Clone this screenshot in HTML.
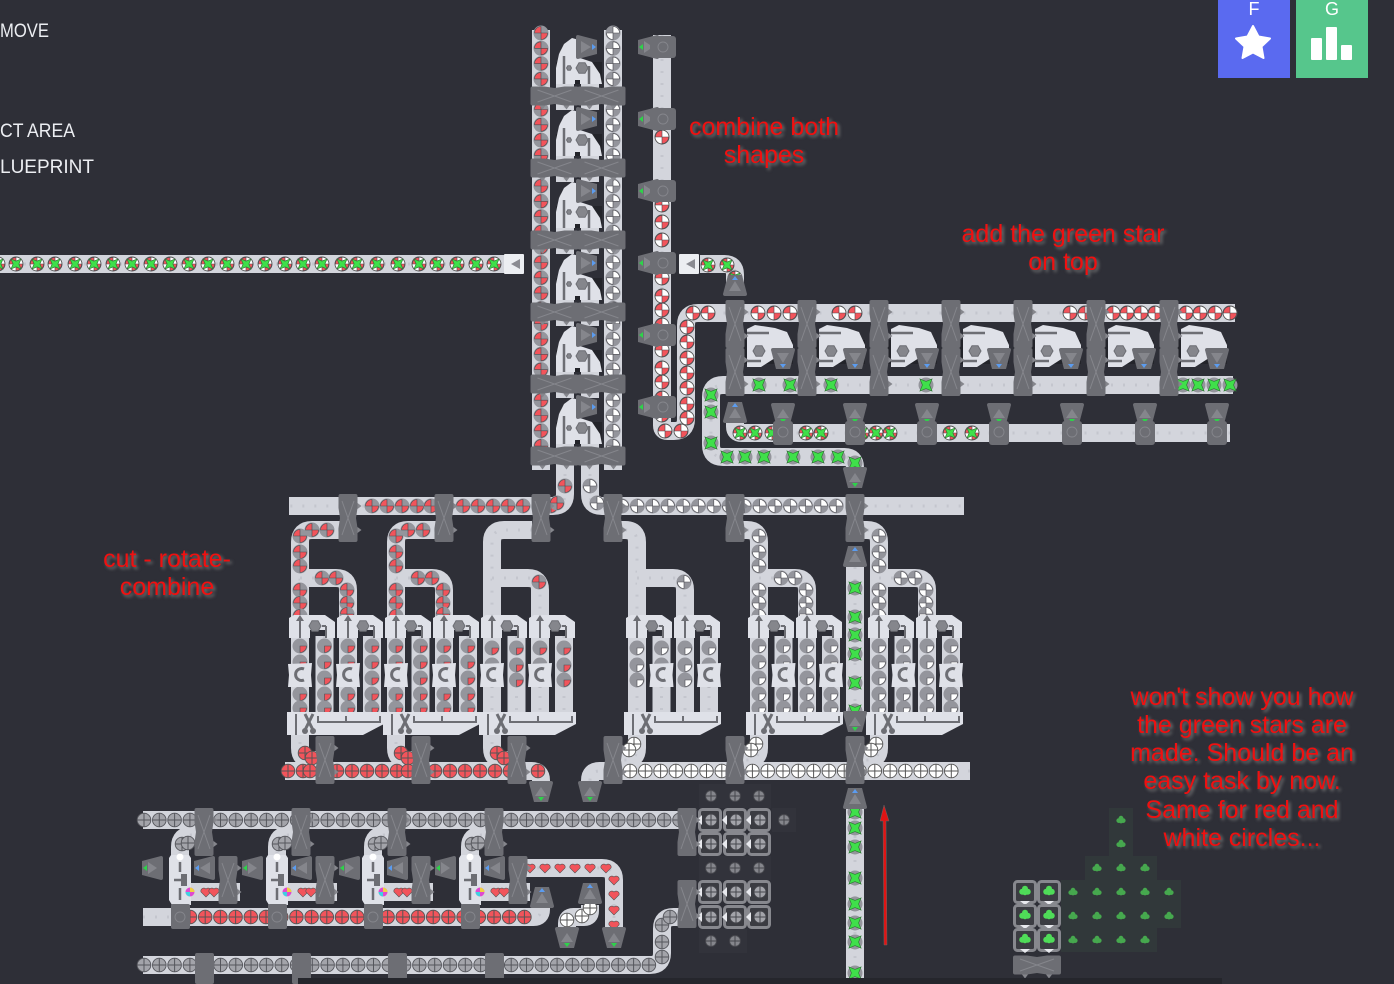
<!DOCTYPE html>
<html><head><meta charset="utf-8"><style>
html,body{margin:0;padding:0;background:#2e2f37;width:1394px;height:984px;overflow:hidden}
svg{position:absolute;left:0;top:0}
.r{font:25px "Liberation Sans",sans-serif;fill:#f01010;text-anchor:middle;filter:drop-shadow(2px 2px 1.5px #777)}
.m{font:19px "Liberation Sans",sans-serif;fill:#eceef2}
.k{font:18px "Liberation Sans",sans-serif;fill:#fff;text-anchor:middle}
</style></head><body>
<svg width="1394" height="984" viewBox="0 0 1394 984" xmlns="http://www.w3.org/2000/svg">
<rect width="1394" height="984" fill="#2e2f37"/>
<g id="world"></g>
<rect x="298" y="978" width="924" height="6" fill="#25262c"/>
<path d="M884 805l-4 16h3l1 124h3l-1-124h3z" fill="#e01414" stroke="#666" stroke-width=".5"/>
<text class="m" x="0" y="37" textLength="49" lengthAdjust="spacingAndGlyphs">MOVE</text>
<text class="m" x="0" y="137" textLength="75" lengthAdjust="spacingAndGlyphs">CT AREA</text>
<text class="m" x="0" y="173" textLength="94" lengthAdjust="spacingAndGlyphs">LUEPRINT</text>
<text class="r" x="764" y="135">combine both</text>
<text class="r" x="764" y="163">shapes</text>
<text class="r" x="1063" y="242">add the green star</text>
<text class="r" x="1063" y="270">on top</text>
<text class="r" x="167" y="567">cut - rotate-</text>
<text class="r" x="167" y="595">combine</text>
<text class="r" x="1242" y="705">won't show you how</text>
<text class="r" x="1242" y="733">the green stars are</text>
<text class="r" x="1242" y="761">made. Should be an</text>
<text class="r" x="1242" y="789">easy task by now.</text>
<text class="r" x="1242" y="818">Same for red and</text>
<text class="r" x="1242" y="846">white circles...</text>
<rect x="1218" y="0" width="72" height="78" fill="#5a6af0"/>
<rect x="1296" y="0" width="72" height="78" fill="#56c68c"/>
<text class="k" x="1254" y="15">F</text>
<text class="k" x="1332" y="15">G</text>
<path d="M1253 26l5.500 10.500 11.500 2-8.500 8 2 11.500-10.500-5.500-10.500 5.500 2-11.500-8.500-8 11.500-2z" fill="#fff" stroke="#fff" stroke-width="2" stroke-linejoin="round"/>
<rect x="1311" y="38" width="11" height="22" rx="1" fill="#fff"/>
<rect x="1326" y="27" width="11" height="33" rx="1" fill="#fff"/>
<rect x="1341" y="45" width="11" height="15" rx="1" fill="#fff"/>
</svg>
<script>
var B=[],I=[],H=[];
var G='#6d6e74',GL='#85868c',W='#dfe1e8',BELT='#d3d5dc',RED='#f2545b',GRN='#3fe04a';
function path(p){var R=12,d='M'+p[0];for(var i=1;i<p.length;i++){var a=p[i-1],b=p[i],c=p[i+1];
 if(!c){d+='L'+b;break}
 var l1=Math.hypot(b[0]-a[0],b[1]-a[1]),l2=Math.hypot(c[0]-b[0],c[1]-b[1]);
 var r=Math.min(R,l1/2,l2/2);
 d+='L'+[b[0]-(b[0]-a[0])*r/l1,b[1]-(b[1]-a[1])*r/l1]+'Q'+b+' '+[b[0]+(c[0]-b[0])*r/l2,b[1]+(c[1]-b[1])*r/l2]}
 return d}
function belt(p){var d=path(p);
 B.push('<path d="'+d+'" fill="none" stroke="'+BELT+'" stroke-width="18"/><path d="'+d+'" fill="none" stroke="#c4c6ce" stroke-width="3" stroke-dasharray="2 10"/>')}
function quad(x,y,r,q,c){var s=[[0,-r,r,0],[r,0,0,r],[0,r,-r,0],[-r,0,0,-r]][q];
 return '<path d="M'+x+' '+y+'L'+(x+s[0])+' '+(y+s[1])+'A'+r+' '+r+' 0 0 1 '+(x+s[2])+' '+(y+s[3])+'Z" fill="'+c+'" stroke="#4a4a50" stroke-width=".6"/>'}
function star(x,y,r){var s='';for(var i=0;i<8;i++){var a=i*Math.PI/4+Math.PI/4,t=i%2?r*.42:r;s+=(x+Math.cos(a)*t).toFixed(1)+','+(y+Math.sin(a)*t).toFixed(1)+' '}
 return '<polygon points="'+s+'" fill="'+GRN+'" stroke="#2f7a35" stroke-width=".7"/>'}
function circ(x,y,r,f,st){return '<circle cx="'+x+'" cy="'+y+'" r="'+r+'" fill="'+f+'"'+(st?' stroke="'+st+'" stroke-width=".9"':'')+'/>'}
function cross(x,y,r,c,f,st){return circ(x,y,r,f,c)+'<path d="M'+(x-r)+' '+y+'H'+(x+r)+'M'+x+' '+(y-r)+'V'+(y+r)+'" stroke="'+c+'" stroke-width="1"/>'}
function it(x,y,t){var s='',bg='#94959c';
 if(t=='rw'){s=circ(x,y,7,'#fff','#555')+quad(x,y,6.600,1,RED)+quad(x,y,6.6,3,RED)}
 else if(t=='rq'){s=circ(x,y,7.5,bg)+quad(x,y,6.5,3,RED)+quad(x,y,6.5,1,RED)}
 else if(t=='wq'){s=circ(x,y,7.5,bg)+quad(x,y,6.5,0,'#fff')+quad(x,y,6.5,2,'#fff')}
 else if(t=='q1'){s=circ(x,y,7.5,bg)+quad(x,y,6.5,1,RED)}
 else if(t=='q2'){s=circ(x,y,7.5,bg)+quad(x,y,6.5,0,RED)}
 else if(t=='w1'){s=circ(x,y,7.5,bg)+quad(x,y,6.5,1,'#fff')}
 else if(t=='w2'){s=circ(x,y,7.5,bg)+quad(x,y,6.5,0,'#fff')}
 else if(t=='w'){s=cross(x,y,6.8,'#555','#fff')}
 else if(t=='r'){s=cross(x,y,6.8,'#555',RED)}
 else if(t=='g'){s=cross(x,y,6.8,'#55565c','#a3a4aa')}
 else if(t=='st'){s=circ(x,y,7.5,bg)+star(x,y,8.5)}
 else if(t=='sg'){s=circ(x,y,7,'#fff','#555')+quad(x,y,6.6,1,RED)+quad(x,y,6.6,3,RED)+star(x,y,7)}
 else if(t=='h'){s='<path d="M'+x+' '+(y+5)+'l-5-5a3 3 0 0 1 5-3a3 3 0 0 1 5 3z" fill="'+RED+'" stroke="#555" stroke-width=".6"/>'}
 I.push(s)}
function rowx(y,xs,t){xs.forEach(function(x){it(x,y,t)})}
function coly(x,ys,t){ys.forEach(function(y){it(x,y,t)})}
function range(a,b,s){var r=[];for(var v=a;v<=b;v+=s)r.push(v);return r}
function bal(x,y,h){var a=h?'rotate(90 '+x+' '+y+')':'';
 H.push('<g transform="'+a+'">'+
 '<path d="M'+(x-9.5)+' '+(y-22)+'q0-2 2-2h15q2 0 2 2v12l-1.5 10 1.5 10v12q0 2-2 2h-15q-2 0-2-2v-12l1.500-10-1.500-10z" fill="'+G+'"/>'+
 '<path d="M'+(x-6)+' '+(y-17)+'L'+(x+6)+' '+(y+17)+'M'+(x+6)+' '+(y-17)+'L'+(x-6)+' '+(y+17)+'" stroke="'+GL+'" stroke-width="1" fill="none"/>'+
 '<path d="M'+(x+9.5)+' '+(y-15)+'l4 3-4 3zM'+(x+9.5)+' '+(y+9)+'l4 3-4 3z" fill="'+GL+'"/></g>')}
function merger(x,y){H.push('<rect x="'+(x-12)+'" y="'+(y-11)+'" width="24" height="22" rx="3" fill="'+G+'"/>'+circ(x,y,5,'none',GL)+'<path d="M'+(x-4)+' '+(y-13)+'h8l-4-3z" fill="'+GL+'"/>')}
function tun(x,y,rot,c,blue){var inner=blue?'M0 -4L6 6L-6 6Z':'M0 5L6 -4L-6 -4Z';
 H.push('<g transform="translate('+x+' '+y+') rotate('+rot+')"><path d="M-7 -10H7L12 9Q12 11 10 11H-10Q-12 11 -12 9Z" fill="'+G+'"/><path d="'+inner+'" fill="'+GL+'"/><path d="M0 -9L3 -5H-3Z" fill="'+c+'"/></g>')}
var BL='#5b9cf0',GR='#2ed24a';
function tb(x,y,r){tun(x,y,r,BL,true)}
function tg(x,y,r){tun(x,y,r,GR,false)}
function poly(p,f){H.push('<polygon points="'+p+'" fill="'+(f||W)+'"/>')}
function hexi(x,y,r){var s='';for(var i=0;i<6;i++){var a=i*Math.PI/3;s+=(x+r*Math.cos(a)).toFixed(1)+','+(y+r*Math.sin(a)).toFixed(1)+' '}
 return '<polygon points="'+s+'" fill="'+GL+'" stroke="#6d6e74"/>'}
/* ---------- tower ---------- */
belt([[541,30],[541,470]]);belt([[613,30],[613,470]]);
belt([[662,35],[662,420],[662,431],[686,431],[686,313],[1235,313]]);
coly(541,range(33,460,15.300),'rq');coly(613,range(33,460,15.300),'wq');
coly(662,[137,205,222,240,278,296,310,325,350,368,382,398,415],'rw');it(665,431,'rw');it(681,431,'rw');
coly(687,[327,342,358,373,388,404,418],'rw');
rowx(313,[693,708,758,774,790,839,855,1070,1085,1113,1127,1141,1155,1186,1200,1215,1230],'rw');
for(var k=0;k<6;k++){var y=24+72*k+14;
 belt([[565,y+44],[565,y+72]]);belt([[590,y+44],[590,y+72]]);
 var dx=556,dy=y;
 H.push('<rect x="556" y="'+(y+24)+'" width="46" height="22" fill="#23242a"/>');
 poly([[dx,dy+46],[dx,dy+30],[dx+3,dy+16],[dx+8,dy+6],[dx+16,dy],[dx+23,dy+2],[dx+24,dy+20],[dx+36,dy+24],[dx+44,dy+36],[dx+46,dy+46],[dx+24,dy+46],[dx+24,dy+42],[dx+19,dy+42],[dx+19,dy+46]].join(' '));
 H.push(hexi(dx+26,dy+30,6)+hexi(dx+13,dy+30,2.500));
 H.push('<path d="M'+(dx+8)+' '+(dy+46)+'V'+(dy+18)+'M'+(dx+33)+' '+(dy+46)+'V'+(dy+28)+'" stroke="'+G+'" stroke-width="2.500"/>');
 I.push(circ(dx+8,dy+15,4,'#f2545b','#555'));
 tb(587,y+9,90);bal(554.5,y+58,1);bal(601.5,y+58,1);
 tg(648,y+9,-90);H.push('<rect x="650" y="'+(y-2)+'" width="26" height="22" rx="3" fill="'+G+'"/>'+circ(663,y+9,5,'none',GL));
}
/* feed row */
belt([[0,264],[515,264]]);
rowx(264,[-2,16,37,55,75,94,113,132,151,170,189,208,227,246,265,285,303,322,342,357,377,398,419,437,457,476,494],'sg');
function sq(x,y,f){H.push('<rect x="'+(x-10)+'" y="'+(y-10)+'" width="20" height="20" rx="1" fill="#eceef2"/><path d="M'+(x+6)+' '+(y-5)+'V'+(y+5)+'L'+(x-3)+' '+y+'Z" fill="#8a8b92"/>')}
sq(514,264);sq(689,264);
belt([[700,264],[735,264],[735,285]]);it(708,265,'sg');it(727,265,'sg');it(735,278,'sg');tb(735,285,0);
/* ---------- right section ---------- */
belt([[1233,385],[711,385],[711,457],[855,457],[855,478]]);
rowx(385,[759,790,831,926,1183,1198,1214,1230],'st');coly(711,[395,412,443],'st');
rowx(457,[727,745,764,793,818,838],'st');it(855,463,'st');
belt([[735,420],[735,433],[1230,433]]);
rowx(433,[740,755,772,806,821,862,876,890,950,972],'sg');
[735,807,879,951,1023,1096,1169].forEach(function(x,i){
 var o=x+12;
 H.push('<rect x="'+(x+8)+'" y="340" width="50" height="24" fill="#23242a"/>');
 poly([[o,329],[o+8,325],[o+28,328],[o+40,332],[o+46,345],[o+46,350],[o+26,350],[o+28,358],[o+14,367],[o,367]].join(' '));
 H.push(hexi(o+12,351,6)+'<path d="M'+o+' 333H'+(o+22)+'M'+o+' 361H'+(o+14)+'" stroke="'+G+'" stroke-width="2.500"/>');
 tb(o+36,359,180);
 bal(x,324);bal(x,372);
});
it(777,338,'sg');
tb(735,412,0);
[783,855,927,999,1072,1145,1217].forEach(function(x){tg(x,414,180);H.push('<rect x="'+(x-10)+'" y="421" width="20" height="24" rx="3" fill="'+G+'"/>'+circ(x,432,5,'none',GL))});
tg(855,478,180);
/* ---------- distribution ---------- */
belt([[565,462],[565,506],[289,506]]);belt([[590,462],[590,506],[964,506]]);
rowx(506,[372,387,402,417,431,463,478,493,508,523,551],'rq');it(565,486,'rq');it(557,503,'rq');
rowx(506,range(622,850,15.300),'wq');it(590,486,'wq');it(597,503,'wq');
function grp(x0,kind){
 var c=[x0,x0+24.500,x0+48,x0+72];
 if(kind=='r') belt([[x0+40,530],[x0,530],[x0,618]]);
 else belt([[x0-24,530],[x0,530],[x0,618]]);
 belt([[x0,578],[x0+48,578],[x0+48,618]]);
 return c}
function full(x0,kind,rotCol,ox,noItems){
 var c=grp(x0,kind),a=kind=='r'?'rq':'wq',q=kind=='r'?'q1':'w1';
 c.forEach(function(v){belt([[v,636],[v,714]])});
 if(!noItems){
  coly(x0,[536,552,566,590,603,616],a);rowx(578,[x0+22,x0+36],a);it(x0+47,590,a);it(x0+47,603,a);it(x0+47,614,a);
  if(x0==300||x0==396){rowx(530,[x0+12,x0+27],a)}
 } else {it(x0+47,582,a)}
 c.forEach(function(v,i){var ys=noItems?[648,665,680]:[646,662,678,694,708];coly(v,ys,q)});
 c.forEach(function(v,i){
  if(i%2==0){
   var o=v-11;
   poly([[o,618],[o+5,615],[o+36,615],[o+46,622],[o+46,638],[o+37,638],[o+37,630],[o+21,630],[o+21,638],[o,638]].join(' '));
   H.push(hexi(o+26,626,6)+'<path d="M'+(o+11)+' 638V620M'+(o+37)+' 638V626M'+(o+33)+' 626H'+(o+37)+'" stroke="'+G+'" stroke-width="2"/><path d="M'+(o+11)+' 615l4 6h-8z" fill="'+G+'"/>');
  }
 });
 var rc=rotCol?[c[1],c[3]]:[c[0],c[2]];
 rc.forEach(function(v){poly([[v-12,664],[v+12,663],[v+11,675],[v+12,687],[v-12,687],[v-11,675]].join(' '));
  H.push('<path d="M'+(v+4)+' 669a6 6 0 1 0 0 11" fill="none" stroke="'+G+'" stroke-width="3"/>')});
 var o=x0-13;
 var bx=kind=='r'?x0+25:x0-24;
 belt([[x0,730],[x0,760],[bx,760]]);
 poly([[o,712],[o+97,712],[o+97,724],[o+76,735],[o,735]].join(' '));
 H.push('<path d="M'+(o+18)+' 714L'+(o+26)+' 730M'+(o+26)+' 714L'+(o+18)+' 730" stroke="'+G+'" stroke-width="3"/>'+circ(o+18,731,3,G)+circ(o+26,731,3,G)+
 '<path d="M'+(o+31)+' 716V722H'+(o+93)+'V716M'+(o+59)+' 716V722M'+(o+9)+' 714V735" stroke="'+G+'" stroke-width="2" fill="none"/>');
 bal(bx,760);
 if(kind=='r'){it(x0+5,753,'r');it(x0+12,758,'r')}else{it(x0-3,744,'w');it(x0-8,750,'w')}
}
full(300,'r',false);full(396,'r',false);full(492,'r',false,0,true);
full(637,'w',true,0,true);full(759,'w',true);full(879,'w',true);
[348,444,541,613,735,855].forEach(function(x){bal(x,518)});
/* collect rows */
belt([[285,771],[541,771],[541,790]]);belt([[970,771],[590,771],[590,790]]);
rowx(771,[288,303,310,337,352,367,382,397,408,435,450,465,480,495,510,538],'r');
rowx(771,range(630,966,15.300),'w');
tg(541,792,180);tg(590,792,180);
/* green feed */
belt([[855,555],[855,720]]);coly(855,[588,617,635,654,683,711],'st');tb(855,556,0);tg(855,722,180);
belt([[855,800],[855,984]]);coly(855,[812,828,847,878,904,923,942,973],'st');tb(855,798,0);
/* ---------- bottom ---------- */
belt([[143,820],[680,820]]);belt([[143,917],[541,917],[541,902]]);
belt([[143,965],[662,965],[662,917],[685,917]]);
rowx(820,range(144,680,15.300),'g');rowx(965,range(144,655,15.300),'g');
coly(662,[925,942,957],'g');it(670,917,'g');
rowx(917,range(190,530,15.200),'r');
belt([[614,930],[614,868],[525,868]]);
rowx(868,[530,545,560,575,590,606],'h');coly(614,[880,895,910,925],'h');
belt([[590,905],[590,917],[567,917],[567,930]]);it(582,916,'w');it(567,920,'w');it(590,908,'w');
tg(152,868,-90);
[180,277,373,470].forEach(function(x,i){
 belt([[x+24,835],[x,835],[x,860]]);it(x+2,844,'g');it(x+8,843,'g');
 belt([[x,892],[x+60,892]]);rowx(892,[x+26,x+34],'h');
 poly([[x-11,900],[x-11,858],[x-9,855],[x+9,855],[x+11,858],[x+11,905],[x-8,905]].join(' '));
 H.push(circ(x,857,3.500,'#fff')+'<path d="M'+x+' 862V872M'+(x-6)+' 880H'+(x+4)+'M'+x+' 888V900" stroke="'+G+'" stroke-width="2.500"/><rect x="'+(x+1)+'" y="874" width="6" height="12" fill="'+G+'"/>');
 H.push(circ(x+10,892,4.500,'#e04ad0')+'<path d="M'+(x+10)+' 892V887.5A4.5 4.5 0 0 1 '+(x+14.5)+' 892Z" fill="#f0d040"/><path d="M'+(x+10)+' 892V896.5A4.5 4.5 0 0 1 '+(x+5.5)+' 892Z" fill="#40d0e0"/>');
 H.push('<rect x="'+(x-9)+'" y="904" width="19" height="25" rx="2" fill="'+G+'"/>');
 H.push(circ(x,917,5,'none',GL));
 bal(x+24,832);bal(x+48,880);
 tb(x+24,868,-90);
 if(i<3)tg(x+72,868,-90);
 H.push('<rect x="'+(x+15)+'" y="953" width="19" height="31" rx="2" fill="'+G+'"/>');
});
tb(542,897,0);tb(590,893,0);tg(567,938,180);tg(614,938,180);
/* miners & ore */
function clover(x,y,r,c){return circ(x-r*.55,y+r*.15,r*.6,c)+circ(x+r*.55,y+r*.15,r*.6,c)+circ(x,y-r*.45,r*.6,c)+circ(x,y+r*.4,r*.45,c)}
function ore(x,y,c,bg){H.push('<rect x="'+(x-12)+'" y="'+(y-12)+'" width="24" height="24" fill="'+bg+'"/>');
 if(c=='g')H.push(cross(x,y,5.5,'#45464c','#85868c'));else H.push(clover(x,y,4,'#46a84e'))}
function miner(x,y,c,dir){H.push('<rect x="'+(x-10.500)+'" y="'+(y-10.500)+'" width="21" height="21" rx="3" fill="#3b3c42" stroke="#87888e" stroke-width="3"/>');
 if(c=='g')H.push(cross(x+1,y,6,'#45464c','#a3a4aa'),'<path d="M'+(x-8)+' '+(y-5)+'L'+(x-13)+' '+y+'L'+(x-8)+' '+(y+5)+'Z" fill="#e8e9ee"/>');
 else H.push(clover(x,y-1,5,'#4fdc58')+'<path d="M'+(x-5)+' '+(y+9)+'L'+x+' '+(y+13)+'L'+(x+5)+' '+(y+9)+'Z" fill="#e8e9ee"/>')}
var og='rgba(255,255,255,.025)';
[796,868,941].forEach(function(y,i){[711,735,759].forEach(function(x,j){if(!(i==2&&j==2))ore(x,y,'g',og)})});
ore(784,820,'g',og);
[820,844,892,917].forEach(function(y){[710,735,759].forEach(function(x){miner(x,y,'g')})});
bal(687,832);bal(687,904);
var on='rgba(90,160,90,.09)';
[[1121,820],[1121,844],[1097,868],[1121,868],[1145,868],[1073,892],[1097,892],[1121,892],[1145,892],[1169,892],[1073,916],[1097,916],[1121,916],[1145,916],[1169,916],[1073,940],[1097,940],[1121,940],[1145,940]].forEach(function(p){ore(p[0],p[1],'s',on)});
[892,916,940].forEach(function(y){[1025,1049].forEach(function(x){miner(x,y,'s')})});
bal(1037,965,1);
document.getElementById('world').innerHTML=B.join('')+I.join('')+H.join('');
</script>
</body></html>
